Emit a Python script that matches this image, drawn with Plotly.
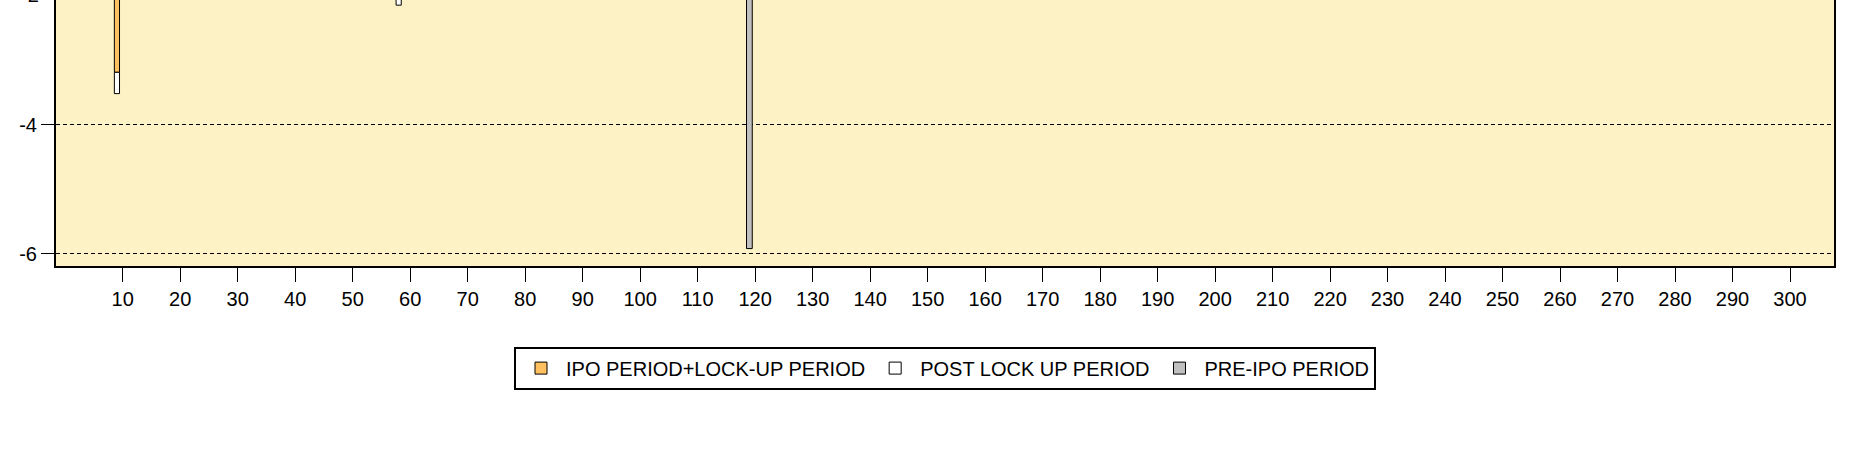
import plotly.graph_objects as go

# days relative to the event, and the return for each period (stacked)
days = [9, 58, 119]
ipo_lockup = [-3.19, None, None]
post_lockup = [-0.33, -2.15, None]
pre_ipo = [None, None, -5.92]

x_ticks = list(range(10, 310, 10))
y_ticks = [-6, -4, -2]
y_tick_text = ['-6', '-4', '-2']
y_range = [-6.19, -2.07]

fnt = dict(family='Liberation Sans, Arial, sans-serif', size=20, color='black')

fig = go.Figure()
fig.add_trace(go.Bar(x=days, y=ipo_lockup, name='IPO PERIOD+LOCK-UP PERIOD', width=0.9,
                     marker=dict(color='#FFC060', line=dict(color='black', width=1))))
fig.add_trace(go.Bar(x=days, y=post_lockup, name='POST LOCK UP PERIOD', width=0.9,
                     marker=dict(color='#FFFFFF', line=dict(color='black', width=1))))
fig.add_trace(go.Bar(x=days, y=pre_ipo, name='PRE-IPO PERIOD', width=1.0,
                     marker=dict(color='#C0C0C0', line=dict(color='black', width=1))))

# top of the chart is cut off: the -2 label only peeks in
y_lab = (-2 - y_range[0]) / (y_range[1] - y_range[0])
fig.add_annotation(x=0, xref='paper', y=y_lab, yref='paper', text='-2', showarrow=False,
                   xanchor='right', yanchor='middle', xshift=-15, font=fnt)

fig.update_layout(
    width=1865, height=450,
    barmode='relative',
    paper_bgcolor='white',
    plot_bgcolor='#FCF2C5',
    font=fnt,
    margin=dict(l=56, r=31, t=0, b=184),
    showlegend=True,
    legend=dict(orientation='h', x=0.5, xanchor='center', y=-0.303, yanchor='top',
                bgcolor='white', bordercolor='black', borderwidth=2, font=fnt,
                traceorder='normal', itemwidth=40),
    xaxis=dict(range=[-1.6, 307.65], tickvals=x_ticks, showgrid=False, zeroline=False,
               showline=True, linecolor='black', linewidth=2, mirror=False,
               ticks='outside', ticklen=14, tickwidth=1, tickcolor='black'),
    yaxis=dict(range=y_range, tickvals=y_ticks, ticktext=y_tick_text,
               showgrid=True, gridcolor='black', gridwidth=1, griddash='4px,3px',
               zeroline=False, showline=True, linecolor='black', linewidth=2, mirror=True,
               ticks='outside', ticklen=13, tickwidth=1, tickcolor='black'),
)

fig.write_html("out.html", config={'displayModeBar': False},
               post_script="document.body.style.margin='0';")
